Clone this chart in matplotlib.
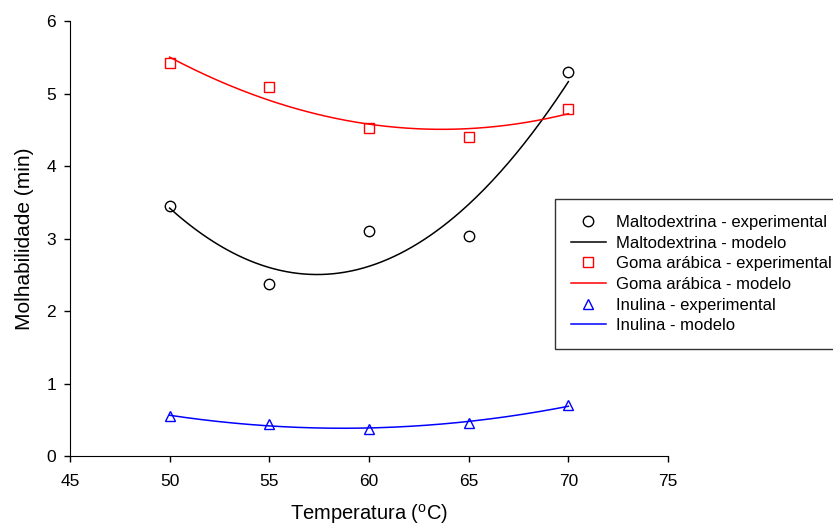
import numpy as np
import matplotlib.pyplot as plt

plt.rcParams['font.family'] = ['Liberation Sans', 'DejaVu Sans']
plt.rcParams['mathtext.fontset'] = 'custom'
plt.rcParams['mathtext.rm'] = 'Liberation Sans'

temperatura = [50, 55, 60, 65, 70]
maltodextrina = [3.45, 2.38, 3.11, 3.04, 5.30]
goma_arabica = [5.42, 5.09, 4.53, 4.40, 4.79]
inulina = [0.55, 0.45, 0.38, 0.46, 0.70]

series = [
    ('Maltodextrina', maltodextrina, 'k', 'o'),
    ('Goma arábica', goma_arabica, 'r', 's'),
    ('Inulina', inulina, 'b', '^'),
]


def main():
    fig = plt.figure(figsize=(8.33, 5.28), dpi=100)
    ax = fig.add_axes([0.084, 0.136, 0.718, 0.824])

    x_fit = np.linspace(min(temperatura), max(temperatura), 200)
    handles = []
    for name, values, color, marker in series:
        # modelo = ajuste quadratico dos pontos experimentais
        coef = np.polyfit(temperatura, values, 2)
        pts, = ax.plot(temperatura, values, linestyle='none', marker=marker,
                       markersize=7.5, markerfacecolor='none',
                       markeredgecolor=color, markeredgewidth=1.0,
                       label=f'{name} - experimental')
        line, = ax.plot(x_fit, np.polyval(coef, x_fit), color=color, lw=1.1,
                        label=f'{name} - modelo')
        handles += [pts, line]

    ax.set_xlim(45, 75)
    ax.set_ylim(0, 6)
    ax.set_xticks(range(45, 76, 5))
    ax.set_yticks(range(0, 7))
    ax.spines['top'].set_visible(False)
    ax.spines['right'].set_visible(False)
    ax.tick_params(direction='out', length=4.5, width=1, labelsize=12.5)
    ax.tick_params(axis='x', pad=8)
    ax.tick_params(axis='y', pad=5.5)
    ax.set_xlabel('Temperatura ($^{\\mathrm{o}}$C)', fontsize=14.5, labelpad=10)
    ax.set_ylabel('Molhabilidade (min)', fontsize=15, labelpad=9)

    leg = fig.legend(handles=handles, loc='upper left',
                     bbox_to_anchor=(0.6663, 0.6231), borderaxespad=0,
                     fontsize=12, frameon=True, fancybox=False,
                     edgecolor='black', handlelength=2.1, handletextpad=0.6,
                     labelspacing=0.34, borderpad=0.95)
    leg.get_frame().set_linewidth(1.0)

    fig.savefig('out.png', dpi=100)


if __name__ == "__main__":
    main()
